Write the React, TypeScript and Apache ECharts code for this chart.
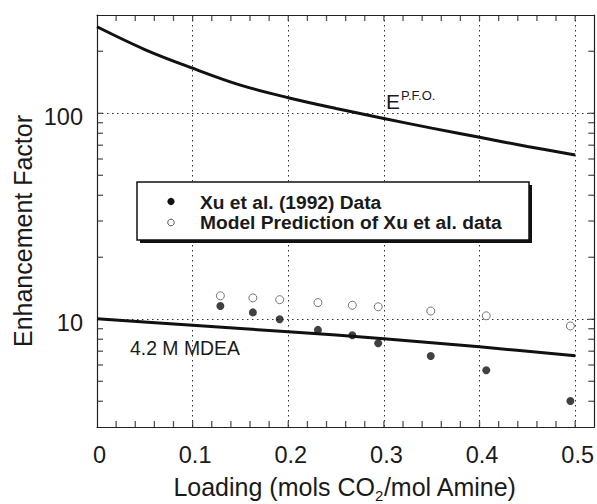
import React, { useEffect, useRef } from 'react';
import * as echarts from 'echarts';

// ---- axis ranges & ticks ----
const X_MIN = 0;
const X_MAX = 0.52;
const Y_MIN = 3;
const Y_MAX = 300;
const xMajorTicks = [0.1, 0.2, 0.3, 0.4, 0.5];
const xMinorTicks = [0.02, 0.04, 0.06, 0.08, 0.12, 0.14, 0.16, 0.18, 0.22, 0.24, 0.26, 0.28, 0.32, 0.34, 0.36, 0.38, 0.42, 0.44, 0.46, 0.48];
const yMajorTicks = [10, 100];
const yMinorTicks = [4, 5, 6, 7, 8, 9, 20, 30, 40, 50, 60, 70, 80, 90, 200];
const yTickLabels = ['10', '100'];

// ---- curves ----
const pfoLoading = [0, 0.05, 0.1, 0.15, 0.2, 0.25, 0.3, 0.35, 0.4, 0.45, 0.5];
const pfoE = [263, 204, 165.5, 137, 119, 105.5, 94.4, 84.7, 76.5, 69, 62.8];
const mdeaLoading = [0, 0.1, 0.2, 0.3, 0.4, 0.5];
const mdeaE = [10.05, 9.35, 8.7, 8.05, 7.35, 6.65];

// ---- points ----
const xuLoading = [0.129, 0.163, 0.191, 0.231, 0.267, 0.294, 0.349, 0.407, 0.495];
const xuE = [11.6, 10.8, 10.0, 8.88, 8.37, 7.65, 6.64, 5.66, 4.01];
const modelLoading = [0.129, 0.163, 0.191, 0.231, 0.267, 0.294, 0.349, 0.407, 0.495];
const modelE = [13.0, 12.7, 12.45, 12.05, 11.7, 11.5, 10.97, 10.4, 9.28];

const FONT = '"Liberation Sans", Arial, Helvetica, sans-serif';
const INK = '#1a1a1a';
const TICK = '#2a2a2a';

const zip = (xs: number[], ys: number[]) => xs.map((x, i) => [x, ys[i]]);

// inward ticks drawn as thin rect symbols, placed by the chart's own axes
const tickSeries = (data: number[][], size: number[], offset: number[]) => ({
  type: 'scatter',
  xAxisIndex: 0,
  yAxisIndex: 0,
  data,
  symbol: 'rect',
  symbolSize: size,
  symbolOffset: offset,
  itemStyle: { color: TICK },
  clip: false,
  z: 3,
});

export default function App() {
  const ref = useRef<HTMLDivElement>(null);

  useEffect(() => {
    if (!ref.current) return;
    const chart = echarts.init(ref.current, undefined, { renderer: 'svg' });

    const gridLine = { show: true, lineStyle: { color: '#333', width: 1, type: [1.5, 3.5] as any } };
    const frameLine = { show: true, onZero: false, lineStyle: { color: '#222', width: 1.2 } };

    const xTicks = [...xMinorTicks, ...xMajorTicks];
    const yTicks = [...yMinorTicks, ...yMajorTicks];

    const option: any = {
      animation: false,
      backgroundColor: '#fff',
      grid: { left: 97, top: 15, width: 498, height: 412, show: false },
      xAxis: [
        {
          type: 'value',
          min: X_MIN,
          max: X_MAX,
          interval: 0.1,
          axisLine: frameLine,
          axisTick: { show: false },
          splitLine: gridLine,
          axisLabel: {
            margin: 16,
            fontSize: 23.5,
            fontFamily: FONT,
            color: INK,
            showMaxLabel: false,
            formatter: (v: number) => {
              if (v > 0.51) return '';
              return '{v|' + (Math.abs(v) < 1e-9 ? '0' : v.toFixed(1)) + '}';
            },
            rich: { v: { fontSize: 23.5, fontFamily: FONT, color: INK, padding: [0, 0, 0, 5] } },
          },
        },
        {
          type: 'value',
          position: 'top',
          min: X_MIN,
          max: X_MAX,
          interval: 0.1,
          axisLine: frameLine,
          axisTick: { show: false },
          splitLine: { show: false },
          axisLabel: { show: false },
        },
      ],
      yAxis: [
        {
          type: 'log',
          logBase: 10,
          min: Y_MIN,
          max: Y_MAX,
          axisLine: frameLine,
          axisTick: { show: false },
          splitLine: gridLine,
          axisLabel: {
            margin: 14,
            fontSize: 23.5,
            fontFamily: FONT,
            color: INK,
            formatter: (v: number) => {
              const i = yMajorTicks.findIndex((t) => Math.abs(t - v) < 1e-6);
              return i >= 0 ? '{v|' + yTickLabels[i] + '}' : '';
            },
            rich: { v: { fontSize: 23.5, fontFamily: FONT, color: INK, padding: [7, 0, 0, 0] } },
          },
        },
        {
          type: 'log',
          logBase: 10,
          position: 'right',
          min: Y_MIN,
          max: Y_MAX,
          axisLine: frameLine,
          axisTick: { show: false },
          splitLine: { show: false },
          axisLabel: { show: false },
        },
      ],
      series: [
        tickSeries(xTicks.map((v) => [v, Y_MIN]), [1.3, 6], [0, -3]),
        tickSeries(xTicks.map((v) => [v, Y_MAX]), [1.3, 6], [0, 3]),
        tickSeries(yTicks.map((v) => [X_MIN, v]), [6, 1.3], [3, 0]),
        tickSeries(yTicks.map((v) => [X_MAX, v]), [6, 1.3], [-3, 0]),
        {
          type: 'line',
          name: 'E P.F.O.',
          xAxisIndex: 0,
          yAxisIndex: 0,
          data: zip(pfoLoading, pfoE),
          smooth: 0.35,
          showSymbol: false,
          symbol: 'none',
          lineStyle: { color: '#111', width: 3 },
          z: 4,
        },
        {
          type: 'line',
          name: '4.2 M MDEA',
          xAxisIndex: 0,
          yAxisIndex: 0,
          data: zip(mdeaLoading, mdeaE),
          smooth: 0.35,
          showSymbol: false,
          symbol: 'none',
          lineStyle: { color: '#111', width: 3 },
          z: 4,
        },
        {
          type: 'scatter',
          name: 'Model Prediction of Xu et al. data',
          xAxisIndex: 0,
          yAxisIndex: 0,
          data: zip(modelLoading, modelE),
          symbol: 'circle',
          symbolSize: 8,
          itemStyle: { color: '#fff', borderColor: '#555', borderWidth: 1 },
          z: 5,
        },
        {
          type: 'scatter',
          name: 'Xu et al. (1992) Data',
          xAxisIndex: 0,
          yAxisIndex: 0,
          data: zip(xuLoading, xuE),
          symbol: 'circle',
          symbolSize: 8,
          itemStyle: { color: '#111' },
          z: 5,
        },
      ],
      graphic: [
        {
          type: 'text',
          x: 23,
          y: 231,
          rotation: Math.PI / 2,
          style: {
            text: 'Enhancement Factor',
            fontSize: 25,
            fontFamily: FONT,
            fill: INK,
            align: 'center',
            verticalAlign: 'middle',
          },
        },
        {
          type: 'text',
          x: 345,
          y: 487,
          style: {
            text: '{a|Loading (mols CO}{b|2}{a|/mol Amine)}',
            align: 'center',
            verticalAlign: 'middle',
            fill: INK,
            rich: {
              a: { fontSize: 25, lineHeight: 25, fontFamily: FONT, fill: INK },
              b: { fontSize: 15, lineHeight: 15, padding: [17, 0, 0, 0], fontFamily: FONT, fill: INK },
            },
          },
        },
        {
          type: 'text',
          x: 386,
          y: 101,
          z: 10,
          style: {
            text: '{e|E}{s|P.F.O.}',
            align: 'left',
            verticalAlign: 'middle',
            fill: INK,
            rich: {
              e: { fontSize: 21, lineHeight: 21, fontFamily: FONT, fill: INK },
              s: { fontSize: 13, lineHeight: 13, padding: [0, 0, 12, 1], fontFamily: FONT, fill: INK },
            },
          },
        },
        {
          type: 'text',
          x: 130,
          y: 348,
          z: 10,
          style: {
            text: '4.2 M MDEA',
            fontSize: 19.4,
            fontFamily: FONT,
            fill: INK,
            align: 'left',
            verticalAlign: 'middle',
          },
        },
        // legend box with shadow
        { type: 'rect', z: 20, shape: { x: 140, y: 185, width: 392, height: 58 }, style: { fill: '#111' } },
        {
          type: 'rect',
          z: 21,
          shape: { x: 137, y: 182, width: 392, height: 58 },
          style: { fill: '#fff', stroke: '#111', lineWidth: 1.5 },
        },
        { type: 'circle', z: 22, shape: { cx: 171, cy: 201.5, r: 3.6 }, style: { fill: '#111' } },
        {
          type: 'circle',
          z: 22,
          shape: { cx: 171, cy: 222.5, r: 3.3 },
          style: { fill: '#fff', stroke: '#555', lineWidth: 1 },
        },
        {
          type: 'text',
          z: 22,
          x: 200,
          y: 202,
          style: {
            text: 'Xu et al. (1992) Data',
            fontSize: 19.2,
            fontWeight: 'bold',
            fontFamily: FONT,
            fill: INK,
            align: 'left',
            verticalAlign: 'middle',
          },
        },
        {
          type: 'text',
          z: 22,
          x: 200,
          y: 222.5,
          style: {
            text: 'Model Prediction of Xu et al. data',
            fontSize: 19.2,
            fontWeight: 'bold',
            fontFamily: FONT,
            fill: INK,
            align: 'left',
            verticalAlign: 'middle',
          },
        },
      ],
    };

    chart.setOption(option);
    return () => chart.dispose();
  }, []);

  return (
    <div style={{ position: 'fixed', left: 0, top: 0, width: 597, height: 504, overflow: 'hidden', background: '#fff' }}>
      <div ref={ref} style={{ width: 597, height: 504 }} />
    </div>
  );
}
